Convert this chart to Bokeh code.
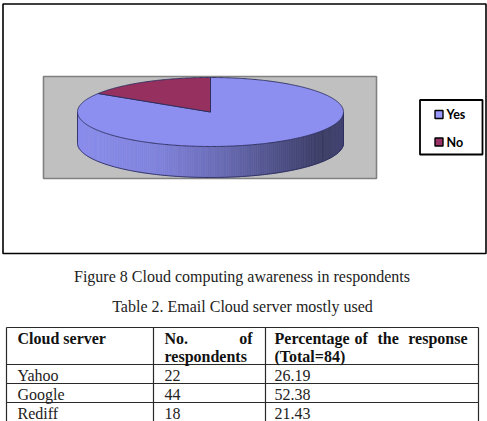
import numpy as np
from bokeh.plotting import figure
from bokeh.models import Range1d
from bokeh.core.properties import value
from bokeh.embed import file_html
from bokeh.resources import INLINE

# ---------------- data ----------------
labels = ["Yes", "No"]
shares = [84, 16]
top_colors = ["#8c8ff0", "#96305f"]
legend_colors = ["#9999ff", "#993366"]

caption = "Figure 8 Cloud computing awareness in respondents"
table_title = "Table 2. Email Cloud server mostly used"
servers = ["Yahoo", "Google", "Rediff"]
respondents = [22, 44, 18]
percentages = [26.19, 52.38, 21.43]

# ---------------- figure ----------------
W, H = 487, 421
p = figure(width=W, height=H, x_range=Range1d(0, W), y_range=Range1d(H, 0),
           output_backend="svg", toolbar_location=None, min_border=0,
           x_axis_type=None, y_axis_type=None)
p.grid.visible = False
p.outline_line_color = None
p.background_fill_color = "white"
p.border_fill_color = "white"

SERIF = value("Liberation Serif")
SANS = value("Lato")

# outer chart frame
p.quad(left=[2.5], right=[485.5], top=[3.5], bottom=[253], fill_color=None,
       line_color="black", line_width=1.6)

# gray plot area
p.quad(left=[43], right=[376], top=[76], bottom=[178], fill_color="#c0c0c0",
       line_color="#808080", line_width=1.6)

# ---------------- 3D pie ----------------
cx, cy, rx, ry, depth = 210.0, 111.5, 133.0, 34.5, 31.0
edge = "#2b2d5c"


def ex(t):
    return cx + rx * np.cos(np.radians(t))


def ey(t):
    return cy - ry * np.sin(np.radians(t))


def shade(u):
    # shading factor along the front side, u=0 left .. 1 right
    pts_u = [0.0, 0.3, 0.55, 0.75, 0.92, 1.0]
    pts_f = [0.99, 0.92, 0.75, 0.57, 0.42, 0.48]
    return np.interp(u, pts_u, pts_f)


def hex_to_rgb(h):
    h = h.lstrip("#")
    return [int(h[i:i + 2], 16) for i in (0, 2, 4)]


total = float(sum(shares))
starts, ends = [], []
a = 90.0
for s in shares:
    starts.append(a)
    a = a - 360.0 * s / total
    ends.append(a)

# side strips
sxs, sys_, scol = [], [], []
for i, (a0, a1) in enumerate(zip(starts, ends)):
    base = hex_to_rgb(top_colors[i])
    n = max(int(abs(a0 - a1)), 2)
    ts = np.linspace(a0, a1, n + 1)
    for j in range(n):
        t0, t1 = ts[j], ts[j + 1]
        tm = 0.5 * (t0 + t1)
        if np.sin(np.radians(tm)) >= 0:
            continue
        u = (1 + np.cos(np.radians(tm))) / 2
        f = shade(u)
        c = "#%02x%02x%02x" % tuple(int(min(255, v * f)) for v in base)
        sxs.append([ex(t0), ex(t1), ex(t1), ex(t0)])
        sys_.append([ey(t0), ey(t1), ey(t1) + depth, ey(t0) + depth])
        scol.append(c)
p.patches(xs=sxs, ys=sys_, fill_color=scol, line_color=scol, line_width=0.6)

# side outline: bottom arc and vertical edges
tb = np.linspace(180, 360, 181)
p.line(x=ex(tb), y=ey(tb) + depth, line_color=edge, line_width=0.9)
p.segment(x0=[ex(180), ex(0)], y0=[ey(180), ey(0)],
          x1=[ex(180), ex(0)], y1=[ey(180) + depth, ey(0) + depth],
          line_color=edge, line_width=0.9)

# top faces
txs, tys = [], []
for a0, a1 in zip(starts, ends):
    ts = np.linspace(a0, a1, max(int(abs(a0 - a1)) * 2, 4))
    txs.append([cx] + list(ex(ts)))
    tys.append([cy] + list(ey(ts)))
p.patches(xs=txs, ys=tys, fill_color=top_colors, line_color=edge, line_width=0.9)

# ---------------- legend ----------------
p.quad(left=[419.5], right=[482], top=[99.5], bottom=[154], fill_color="white",
       line_color="black", line_width=1.8)
ly = [114.0 + 27.5 * i for i in range(len(labels))]
p.quad(left=[434.5] * len(labels), right=[442.5] * len(labels),
       top=[y - 4 for y in ly], bottom=[y + 4 for y in ly],
       fill_color=legend_colors, line_color="black", line_width=1.4)
p.text(x=[446] * len(labels), y=ly, text=labels,
       text_font=SANS, text_font_style="bold", text_font_size="12.5px",
       text_align="left", text_baseline="middle", text_color="black")

# ---------------- captions ----------------
p.text(x=[241.5, 242], y=[276, 306], text=[caption, table_title],
       text_font=SERIF, text_font_size="16px", text_align="center",
       text_baseline="middle", text_color="#222222")

# ---------------- table ----------------
col_x = [6, 153, 265, 478]
row_y = [327, 364, 383, 402, 421]
tline = "#2a2a2a"
p.segment(x0=[col_x[0]] * (len(row_y) - 1), x1=[col_x[-1]] * (len(row_y) - 1),
          y0=row_y[:-1], y1=row_y[:-1], line_color=tline, line_width=1.2)
p.segment(x0=col_x, x1=col_x, y0=[row_y[0]] * len(col_x),
          y1=[row_y[-1]] * len(col_x), line_color=tline, line_width=1.2)

h1, h2 = 338, 356
# header
p.text(x=[17, 164, 164, 274, 274], y=[h1, h1, h2, h1, h2],
       text=["Cloud server", "No.", "respondents", "Percentage", "(Total=84)"],
       text_font=SERIF, text_font_style="bold", text_font_size="16px",
       text_align="left", text_baseline="middle", text_color="#111111")
p.text(x=[252, 467], y=[h1, h1], text=["of", "response"],
       text_font=SERIF, text_font_style="bold", text_font_size="16px",
       text_align="right", text_baseline="middle", text_color="#111111")
p.text(x=[354, 377], y=[h1, h1], text=["of", "the"],
       text_font=SERIF, text_font_style="bold", text_font_size="16px",
       text_align="left", text_baseline="middle", text_color="#111111")

# rows
centers = [row_y[i + 2] - 7.6 for i in range(len(servers))]
p.text(x=[17] * len(servers), y=centers, text=servers,
       text_font=SERIF, text_font_size="16px", text_align="left",
       text_baseline="middle", text_color="#222222")
p.text(x=[164] * len(servers), y=centers, text=[str(v) for v in respondents],
       text_font=SERIF, text_font_size="16px", text_align="left",
       text_baseline="middle", text_color="#222222")
p.text(x=[274] * len(servers), y=centers, text=["%.2f" % v for v in percentages],
       text_font=SERIF, text_font_size="16px", text_align="left",
       text_baseline="middle", text_color="#222222")

open("out.html", "w").write(file_html(p, INLINE))
